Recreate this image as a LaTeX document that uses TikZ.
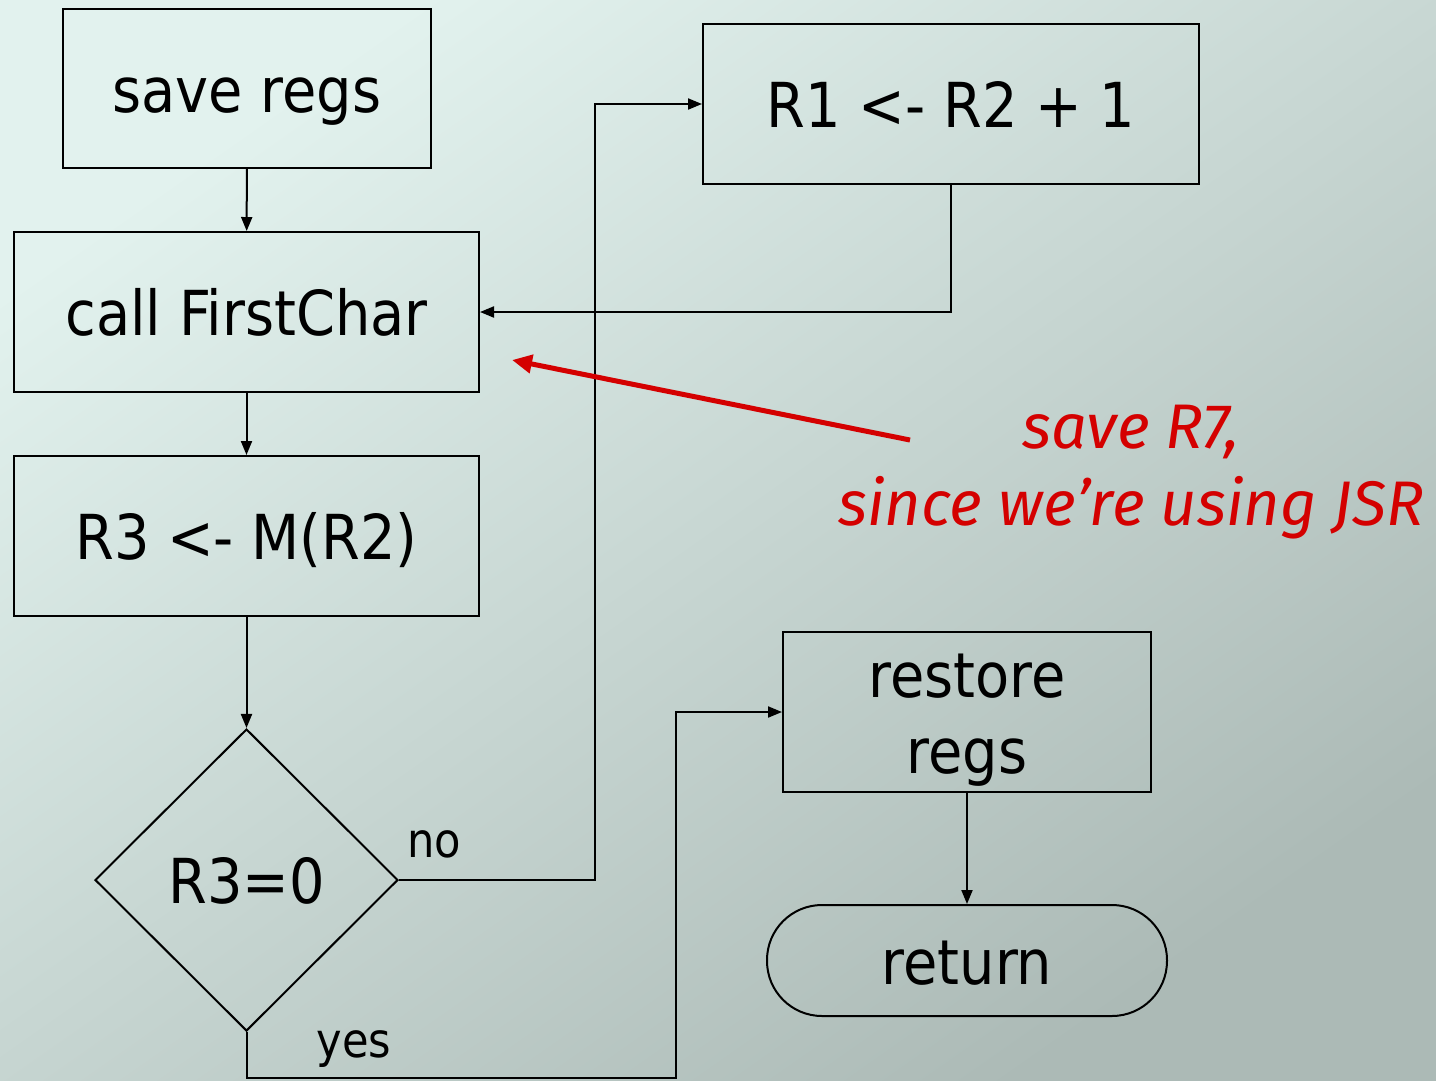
\documentclass[tikz,border=0pt]{standalone}
\usepackage{fontspec}
\setmainfont{DejaVu Sans Condensed}
\newfontfamily\notefont{Fira Sans}
\usetikzlibrary{shapes.geometric,arrows.meta}
\definecolor{bgtop}{RGB}{226,242,238}
\definecolor{bgbot}{RGB}{172,186,182}
\definecolor{notered}{RGB}{212,0,0}

\begin{document}
\begin{tikzpicture}[x=1pt, y=-1pt,
  every node/.style={font=\fontsize{62}{76}\selectfont},
  blk/.style={draw, line width=2pt, inner sep=0pt, text height=47pt, text depth=0pt},
  flow/.style={line width=2pt, -{Triangle[length=14pt,width=11pt]}},
  small/.style={font=\fontsize{48}{56}\selectfont}]
\useasboundingbox (0,0) rectangle (1436,1080);
\shade[top color=bgtop, bottom color=bgbot, shading angle=35] (0,0) rectangle (1436,1080);

% boxes of the flow chart
\node[blk, minimum width=368pt, minimum height=159pt] (save) at (247,88.5) {save regs};
\node[blk, minimum width=465pt, minimum height=160pt] (call) at (246.5,312) {call FirstChar};
\node[blk, minimum width=465pt, minimum height=160pt] (load) at (246.5,536) {R3 <- M(R2)};
\node[blk, diamond, minimum width=303pt, minimum height=302pt] (test) at (246.5,880) {R3=0};
\node[blk, minimum width=496pt, minimum height=160pt] (incr) at (951,104) {R1 <- R2 + 1};
\node[blk, minimum width=368pt, minimum height=160pt, align=center, text height=123pt] (rest) at (967,712) {restore\\regs};
\node[blk, minimum width=400pt, minimum height=111pt, rounded corners=55pt] (ret) at (967,960.5) {return};

\coordinate (jno) at (595,880);
\coordinate (jyes) at (676,1078);

\draw[flow] (save) -- (call);
\draw[flow] (call) -- (load);
\draw[flow] (load) -- (test);
\draw[flow] (test.east) -- (jno) |- (incr.west);
\draw[flow] (incr.south) |- (call.east);
\draw[flow] (test.south) |- (jyes) |- (rest.west);
\draw[flow] (rest.south -| ret.north) -- (ret.north);

\node[small, anchor=base west] (no) at (404,857) {no};
\node[small, anchor=base west] (yes) at (313,1057) {yes};

% note about R7
\node[notered, font=\notefont\itshape\fontsize{63}{77}\selectfont, align=center, anchor=north] (note) at (1131,402) {save R7,\\since we’re using JSR};
\coordinate (tail) at (910,440);
\draw[notered, line width=5pt, -{Triangle[length=20pt,width=18pt]}] (tail) -- (512,360);
\end{tikzpicture}
\end{document}
